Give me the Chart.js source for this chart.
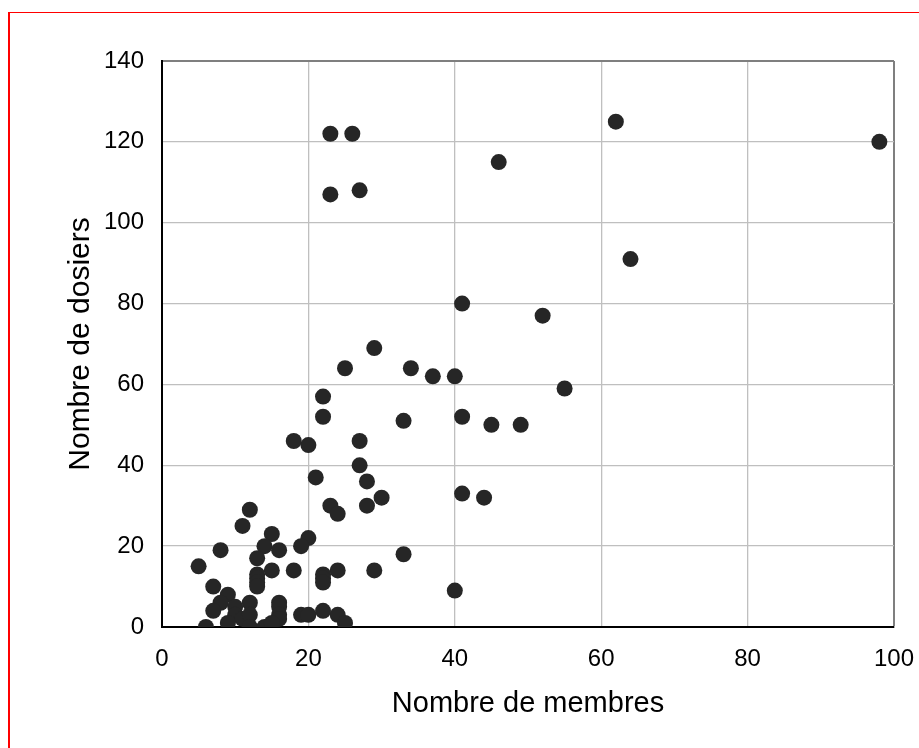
<!DOCTYPE html>
<html>
<head>
<meta charset="utf-8">
<script src="https://cdn.jsdelivr.net/npm/chart.js@4"></script>
<style>
  html, body { margin: 0; padding: 0; background: #fff; overflow: hidden; }
  #wrap { position: relative; width: 919px; height: 748px; }
  #frame { position: absolute; left: 8px; top: 12px; width: 1000px; height: 1000px;
           border-left: 2px solid #ff0000; border-top: 1px solid #ff0000; pointer-events: none; }
</style>
</head>
<body>
<div id="wrap">
  <canvas id="myChart" width="919" height="748"></canvas>
  <div id="frame"></div>
</div>
<script>
// nombre de membres (x) / nombre de dossiers (y), one entry per point
const membres = [
    23, 26, 23, 27, 62, 46, 98, 64, 41, 52,
    29, 55, 25, 34, 37, 40, 22, 22, 33, 41,
    45, 49, 18, 20, 27, 27, 21, 28, 30, 41,
    44, 23, 24, 28, 12, 11, 15, 20, 19, 14,
    8, 16, 13, 33, 5, 15, 18, 24, 29, 13,
    13, 13, 13, 22, 22, 22, 7, 40, 9, 8,
    12, 16, 16, 16, 16, 10, 7, 10, 11, 12,
    9, 6, 12, 14, 15, 19, 20, 22, 24, 25
];
const dossiers = [
    122, 122, 107, 108, 125, 115, 120, 91, 80, 77,
    69, 59, 64, 64, 62, 62, 57, 52, 51, 52,
    50, 50, 46, 45, 46, 40, 37, 36, 32, 33,
    32, 30, 28, 30, 29, 25, 23, 22, 20, 20,
    19, 19, 17, 18, 15, 14, 14, 14, 14, 13,
    12, 11, 10, 13, 12, 11, 10, 9, 8, 6,
    6, 6, 5, 3, 2, 5, 4, 3, 2, 3,
    1, 0, 0, 0, 1, 3, 3, 4, 3, 1
];
const xTicks = [0, 20, 40, 60, 80, 100];
const yTicks = [0, 20, 40, 60, 80, 100, 120, 140];

const points = membres.map((m, i) => ({ x: m, y: dossiers[i] }));

const FONT = "'Liberation Sans', Arial, sans-serif";

const data = {
    datasets: [
        {
            label: 'Dossiers',
            data: points,
            backgroundColor: '#262626',
            borderWidth: 0,
            pointRadius: 8,
            pointHoverRadius: 8
        }
    ]
};

// last grid line (top / right edge of the plot) is darker
const gridColor = (ctx) => ctx.index === ctx.scale.ticks.length - 1 ? '#7f7f7f' : '#bfbfbf';
const gridWidth = (ctx) => ctx.index === ctx.scale.ticks.length - 1 ? 2 : 1.3;

const config = {
    type: 'scatter',
    data: data,
    options: {
        responsive: false,
        animation: false,
        layout: {
            autoPadding: false,
            padding: { left: 0, top: 61, right: 25, bottom: 0 }
        },
        scales: {
            x: {
                type: 'linear',
                min: 0,
                max: 100,
                afterBuildTicks: (axis) => { axis.ticks = xTicks.map(v => ({ value: v })); },
                afterFit: (axis) => {
                    axis.height = 121;
                    axis.paddingLeft = 0;
                    axis.paddingRight = 0;
                },
                grid: { color: gridColor, lineWidth: gridWidth, drawTicks: false },
                border: { color: '#000', width: 2 },
                ticks: { color: '#000', padding: 18, font: { family: FONT, size: 24 } },
                title: {
                    display: true,
                    text: 'Nombre de membres',
                    color: '#000',
                    font: { family: FONT, size: 29 },
                    padding: { top: 0, bottom: 27 }
                }
            },
            y: { // fixed range like the original
                type: 'linear',
                min: 0,
                max: 140,
                afterBuildTicks: (axis) => { axis.ticks = yTicks.map(v => ({ value: v })); },
                afterFit: (axis) => {
                    axis.width = 162;
                    axis.paddingTop = 0;
                    axis.paddingBottom = 0;
                },
                grid: { color: gridColor, lineWidth: gridWidth, drawTicks: false },
                border: { color: '#000', width: 2 },
                ticks: { color: '#000', padding: 18, font: { family: FONT, size: 24 } },
                title: {
                    display: true,
                    text: 'Nombre de dosiers',
                    color: '#000',
                    font: { family: FONT, size: 30 },
                    padding: { top: 63, bottom: 0 }
                }
            }
        },
        plugins: {
            legend: { display: false },
            tooltip: { enabled: false }
        }
    }
};

const myChart = new Chart(
    document.getElementById('myChart'),
    config
);
</script>
</body>
</html>
